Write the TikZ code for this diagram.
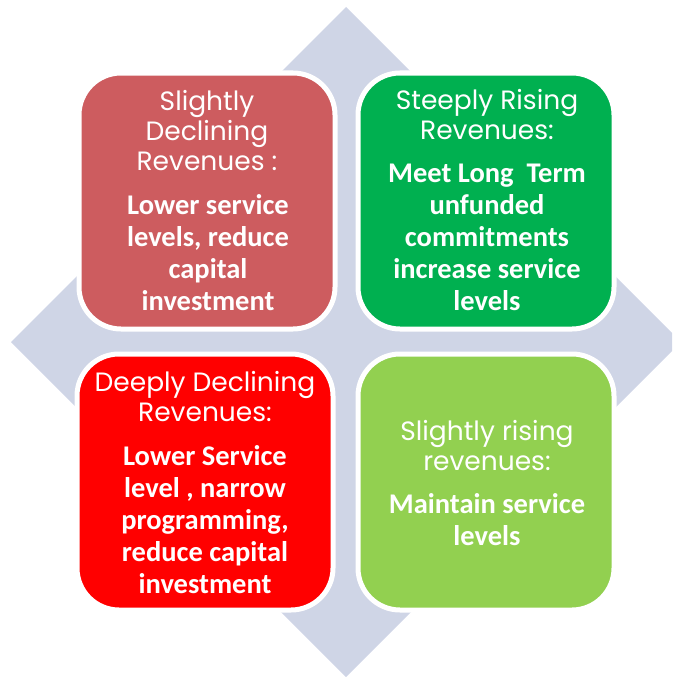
\documentclass[tikz,border=0pt]{standalone}
\usepackage{fontspec}
\newfontfamily\headfont{Poppins}
\newfontfamily\bodyfont{Carlito}
\definecolor{diam}{RGB}{207,213,230}
\definecolor{cTL}{RGB}{205,92,95}
\definecolor{cTR}{RGB}{0,176,80}
\definecolor{cBL}{RGB}{255,0,0}
\definecolor{cBR}{RGB}{146,208,80}
\begin{document}
\begin{tikzpicture}[x=1pt,y=-1pt,
  quad/.style={draw=white,line width=5pt,rounded corners=42pt,minimum width=256pt,minimum height=256pt,inner sep=0pt},
  head/.style={text=white,align=center,inner sep=0pt,font={\headfont\fontsize{26.5}{30}\selectfont}},
  body/.style={text=white,align=center,inner sep=0pt,font={\bodyfont\bfseries\fontsize{28.5}{32}\selectfont}}]
\useasboundingbox (0,0) rectangle (672,677);
\clip (0,0) rectangle (672,677);
\fill[diam] (346,7) -- (681,342) -- (346,677) -- (11,342) -- cycle;
\node[quad,fill=cTL] (tl) at (207,201) {};
\node[quad,fill=cTR] (tr) at (486,201) {};
\node[quad,fill=cBL] (bl) at (205,482) {};
\node[quad,fill=cBR] (br) at (486,482) {};
\node[head] (tlh) at (207,131) {Slightly\\Declining\\Revenues :};
\node[body] (tlb) at (208,253) {Lower service\\levels, reduce\\capital\\investment};
\node[head] (trh) at (487,115) {Steeply Rising\\Revenues:};
\node[body] (trb) at (487,237) {Meet Long\ \ Term\\unfunded\\commitments\\increase service\\levels};
\node[head] (blh) at (205,397) {Deeply Declining\\Revenues:};
\node[body] (blb) at (205,520) {Lower Service\\level , narrow\\programming,\\reduce capital\\investment};
\node[head] (brh) at (487,446) {Slightly rising\\revenues:};
\node[body] (brb) at (487,520) {Maintain service\\levels};
\end{tikzpicture}
\end{document}
